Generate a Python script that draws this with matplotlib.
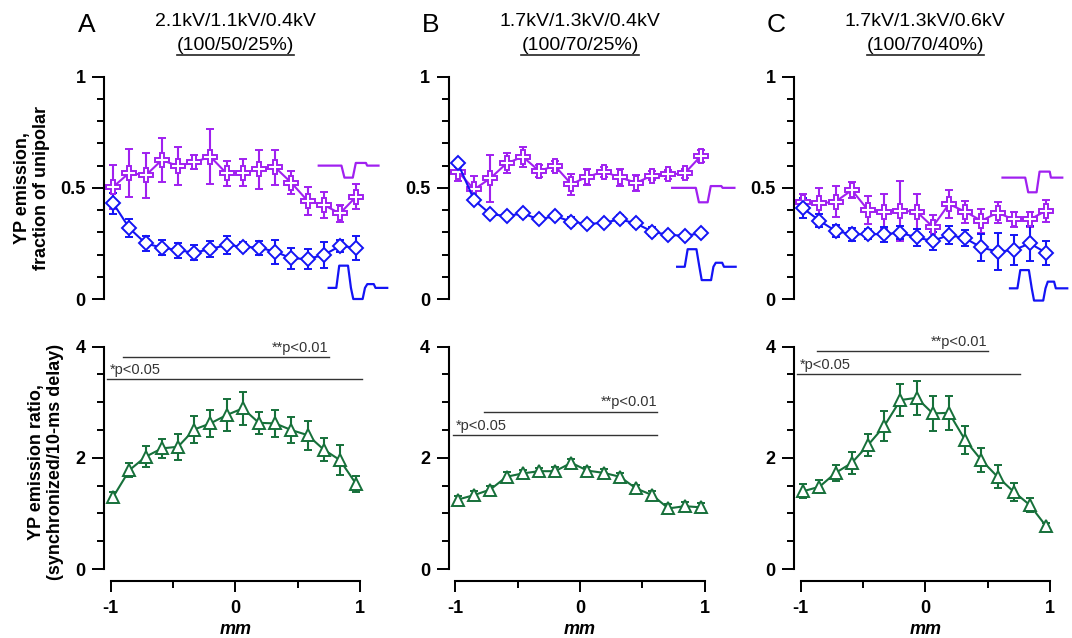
import matplotlib
matplotlib.use('Agg')
import matplotlib.pyplot as plt
import numpy as np
from matplotlib.ticker import MultipleLocator, FixedLocator
from matplotlib.transforms import blended_transform_factory
from matplotlib.lines import Line2D

plt.rcParams['font.family'] = ['Liberation Sans', 'DejaVu Sans']

# ---------------- data ----------------
x_mm = [-0.98, -0.85, -0.72, -0.59, -0.46, -0.33, -0.20, -0.07,
        0.06, 0.19, 0.32, 0.45, 0.58, 0.71, 0.84, 0.97]

panel_letters = ['A', 'B', 'C']
titles_kv = ['2.1kV/1.1kV/0.4kV', '1.7kV/1.3kV/0.4kV', '1.7kV/1.3kV/0.6kV']
titles_pct = ['(100/50/25%)', '(100/70/25%)', '(100/70/40%)']

# top row: purple (monophasic) and blue (biphasic), fraction of unipolar
purple_A = [0.505, 0.568, 0.556, 0.625, 0.598, 0.616, 0.640, 0.565,
            0.568, 0.583, 0.592, 0.523, 0.442, 0.423, 0.385, 0.460]
purple_A_err = [0.10, 0.107, 0.10, 0.10, 0.084, 0.03, 0.123, 0.058,
                0.06, 0.087, 0.08, 0.052, 0.062, 0.057, 0.04, 0.057]
blue_A = [0.430, 0.318, 0.250, 0.231, 0.220, 0.208, 0.225, 0.243,
          0.235, 0.231, 0.213, 0.183, 0.180, 0.198, 0.238, 0.231]
blue_A_err = [0.048, 0.04, 0.033, 0.035, 0.034, 0.034, 0.037, 0.041,
              0.02, 0.032, 0.054, 0.046, 0.046, 0.058, 0.026, 0.054]

purple_B = [0.573, 0.493, 0.543, 0.610, 0.640, 0.577, 0.598, 0.517,
            0.550, 0.573, 0.547, 0.523, 0.555, 0.561, 0.565, 0.643]
purple_B_err = [0.04, 0.06, 0.105, 0.045, 0.046, 0.026, 0.024, 0.047,
                0.037, 0.022, 0.04, 0.037, 0.019, 0.02, 0.022, 0.028]
blue_B = [0.610, 0.445, 0.382, 0.373, 0.385, 0.358, 0.373, 0.348,
          0.337, 0.343, 0.358, 0.340, 0.303, 0.288, 0.285, 0.295]
blue_B_err = [0.015, 0.015, 0.012, 0.012, 0.015, 0.012, 0.012, 0.02,
              0.012, 0.012, 0.018, 0.015, 0.02, 0.012, 0.01, 0.01]

purple_C = [0.438, 0.430, 0.438, 0.490, 0.400, 0.393, 0.397, 0.393,
            0.325, 0.427, 0.393, 0.352, 0.388, 0.358, 0.358, 0.397]
purple_C_err = [0.035, 0.07, 0.07, 0.035, 0.064, 0.08, 0.135, 0.08,
                0.055, 0.064, 0.05, 0.055, 0.048, 0.032, 0.032, 0.05]
blue_C = [0.408, 0.352, 0.306, 0.291, 0.291, 0.292, 0.298, 0.277,
          0.261, 0.288, 0.273, 0.232, 0.213, 0.220, 0.250, 0.208]
blue_C_err = [0.045, 0.03, 0.026, 0.03, 0.022, 0.034, 0.03, 0.037,
              0.04, 0.04, 0.036, 0.062, 0.084, 0.066, 0.077, 0.054]

# bottom row: emission ratio (synchronized / 10-ms delay)
green_A = [1.30, 1.78, 2.02, 2.17, 2.20, 2.51, 2.62, 2.77,
           2.89, 2.63, 2.62, 2.50, 2.41, 2.15, 1.96, 1.53]
green_A_err = [0.09, 0.13, 0.19, 0.17, 0.23, 0.25, 0.24, 0.28,
               0.29, 0.20, 0.24, 0.23, 0.26, 0.20, 0.27, 0.15]
green_B = [1.25, 1.33, 1.43, 1.66, 1.72, 1.76, 1.76, 1.91,
           1.77, 1.73, 1.66, 1.45, 1.33, 1.09, 1.13, 1.11]
green_B_err = [0.07, 0.08, 0.07, 0.08, 0.07, 0.06, 0.08, 0.07,
               0.07, 0.07, 0.06, 0.06, 0.07, 0.08, 0.07, 0.08]
green_C = [1.40, 1.48, 1.73, 1.91, 2.23, 2.57, 3.04, 3.08,
           2.80, 2.81, 2.32, 1.96, 1.66, 1.39, 1.15, 0.77]
green_C_err = [0.13, 0.12, 0.15, 0.20, 0.20, 0.27, 0.28, 0.31,
               0.31, 0.30, 0.25, 0.21, 0.21, 0.16, 0.13, 0.05]

# significance bars: (y, x_start, x_end)
sig01 = [(3.81, -0.90, 0.75), (2.83, -0.77, 0.62), (3.92, -0.87, 0.50)]
sig05 = [(3.41, -1.03, 1.02), (2.41, -1.02, 0.62), (3.51, -1.03, 0.76)]

# waveform icon templates (normalized time, normalized level)
mono_t = [0, 0.38, 0.43, 0.57, 0.62, 0.79, 0.81, 1.0]
mono_v = [0, 0, -1, -1, 1, 1, 0, 0]          # 1 -> overshoot level
bi_t = [0, 0.13, 0.18, 0.33, 0.38, 0.42, 0.58, 0.62, 0.66, 0.77, 0.80, 1.0]
bi_v = [0, 0, 1, 1, 0, -1, -1, 0, 2, 2, 0, 0]  # 1 up, -1 down, 2 post
# per panel: (x0, x1, baseline, dip, overshoot)
mono_par = [(0.67, 1.15, 0.60, 0.054, 0.012),
            (0.74, 1.24, 0.50, 0.065, 0.008),
            (0.62, 1.10, 0.546, 0.066, 0.027)]
# per panel: (x0, x1, baseline, up, down, post)
bi_par = [(0.75, 1.22, 0.05, 0.10, 0.05, 0.017),
          (0.78, 1.25, 0.145, 0.079, 0.06, 0.018),
          (0.68, 1.14, 0.048, 0.082, 0.055, 0.03)]

# ---------------- style ----------------
PURPLE = '#A020F0'
BLUE = '#1414F5'
GREEN = '#16703A'
SIGC = '#333333'

W, H = 1072, 638
fig = plt.figure(figsize=(W / 100, H / 100), dpi=100)

lefts = [104.3, 449.0, 794.3]
ax_w = 262.0
ax_h = 222.3
top_row_top = 76.7
bot_row_top = 346.7


def make_ax(left, top):
    return fig.add_axes([left / W, 1 - (top + ax_h) / H, ax_w / W, ax_h / H])


def style_y(ax, major, minor, lim, labels):
    for s in ['top', 'right', 'bottom']:
        ax.spines[s].set_visible(False)
    ax.spines['left'].set_linewidth(1.5)
    ax.set_ylim(*lim)
    ax.yaxis.set_major_locator(FixedLocator(major))
    ax.yaxis.set_minor_locator(MultipleLocator(minor))
    ax.set_yticklabels(labels)
    ax.tick_params(axis='y', which='major', length=9, width=1.4, pad=4.5,
                   labelsize=13)
    ax.tick_params(axis='y', which='minor', length=5, width=1.4)
    for lab in ax.get_yticklabels():
        lab.set_fontweight('bold')
    ax.set_xlim(-1.052, 1.052)


def waveform_mono(ax, par, color):
    x0, x1, base, dip, over = par
    xs = [x0 + t * (x1 - x0) for t in mono_t]
    ys = [base + (-dip if v == -1 else (over if v == 1 else 0)) for v in mono_v]
    ax.plot(xs, ys, color=color, lw=1.6, clip_on=False, solid_joinstyle='round')


def waveform_bi(ax, par, color):
    x0, x1, base, up, down, post = par
    amp = {0: 0, 1: up, -1: -down, 2: post}
    xs = [x0 + t * (x1 - x0) for t in bi_t]
    ys = [base + amp[v] for v in bi_v]
    ax.plot(xs, ys, color=color, lw=1.6, clip_on=False, solid_joinstyle='round')


top_data = [(purple_A, purple_A_err, blue_A, blue_A_err),
            (purple_B, purple_B_err, blue_B, blue_B_err),
            (purple_C, purple_C_err, blue_C, blue_C_err)]
bot_data = [(green_A, green_A_err), (green_B, green_B_err), (green_C, green_C_err)]

eb_kw = dict(lw=1.5, elinewidth=1.5, capsize=3, capthick=1.5, mfc='white', mew=1.4)

fig.canvas.draw()
renderer = fig.canvas.get_renderer()

for i in range(3):
    # ---- top panel ----
    ax = make_ax(lefts[i], top_row_top)
    style_y(ax, [0, 0.5, 1], 0.1, (0, 1), ['0', '0.5', '1'])
    ax.set_xticks([])
    p, pe, b, be = top_data[i]
    ax.errorbar(x_mm, p, yerr=pe, color=PURPLE, marker='P', ms=10,
                mec=PURPLE, clip_on=False, **eb_kw)
    ax.errorbar(x_mm, b, yerr=be, color=BLUE, marker='D', ms=7.5,
                mec=BLUE, clip_on=False, **eb_kw)
    waveform_mono(ax, mono_par[i], PURPLE)
    waveform_bi(ax, bi_par[i], BLUE)

    # titles
    tr = blended_transform_factory(ax.transData, fig.transFigure)
    fig.text(0, 1 - 21.7 / H, titles_kv[i], transform=tr, ha='center',
             va='center', fontsize=14)
    t2 = fig.text(0, 1 - 45.5 / H, titles_pct[i], transform=tr, ha='center',
                  va='center', fontsize=14)
    bb = t2.get_window_extent(renderer=renderer)
    fig.add_artist(Line2D([bb.x0 / W, bb.x1 / W], [1 - 55 / H, 1 - 55 / H],
                          transform=fig.transFigure, color='#222222', lw=1.2))
    fig.text((lefts[i] - 18) / W, 1 - 25 / H, panel_letters[i], ha='center',
             va='center', fontsize=19)

    # ---- bottom panel ----
    axb = make_ax(lefts[i], bot_row_top)
    style_y(axb, [0, 2, 4], 0.5, (0, 4), ['0', '2', '4'])
    axb.spines['bottom'].set_visible(True)
    axb.spines['bottom'].set_position(('outward', 8.5))
    axb.spines['bottom'].set_bounds(-1, 1)
    axb.spines['bottom'].set_linewidth(1.5)
    axb.xaxis.set_major_locator(FixedLocator([-1, 0, 1]))
    axb.xaxis.set_minor_locator(FixedLocator([-0.5, 0.5]))
    axb.set_xticklabels(['-1', '0', '1'])
    axb.tick_params(axis='x', which='major', length=8, width=1.4, pad=6,
                    labelsize=13)
    axb.tick_params(axis='x', which='minor', length=5, width=1.4)
    for lab in axb.get_xticklabels():
        lab.set_fontweight('bold')
    axb.set_xlabel('mm', fontsize=13, fontweight='bold', fontstyle='italic',
                   labelpad=3)
    g, ge = bot_data[i]
    axb.errorbar(x_mm, g, yerr=ge, color=GREEN, marker='^', ms=9,
                 mec=GREEN, clip_on=False, **eb_kw)

    y1, a1, b1 = sig01[i]
    y5, a5, b5 = sig05[i]
    axb.plot([a1, b1], [y1, y1], color=SIGC, lw=1.0, clip_on=False)
    axb.plot([a5, b5], [y5, y5], color=SIGC, lw=1.0, clip_on=False)
    axb.text(b1, y1 + 0.04, '**p<0.01', ha='right', va='bottom', fontsize=10.5,
             color=SIGC)
    axb.text(a5 + 0.02, y5 + 0.04, '*p<0.05', ha='left', va='bottom',
             fontsize=10.5, color=SIGC)

fig.text(31.7 / W, 1 - 188 / H, 'YP emission,\nfraction of unipolar',
         rotation=90, ha='center', va='center', fontsize=13,
         fontweight='bold', multialignment='center', linespacing=1.15)
fig.text(46 / W, 1 - 462 / H, 'YP emission ratio,\n(synchronized/10-ms delay)',
         rotation=90, ha='center', va='center', fontsize=13,
         fontweight='bold', multialignment='center', linespacing=1.15)

fig.savefig('out.png', dpi=100)
